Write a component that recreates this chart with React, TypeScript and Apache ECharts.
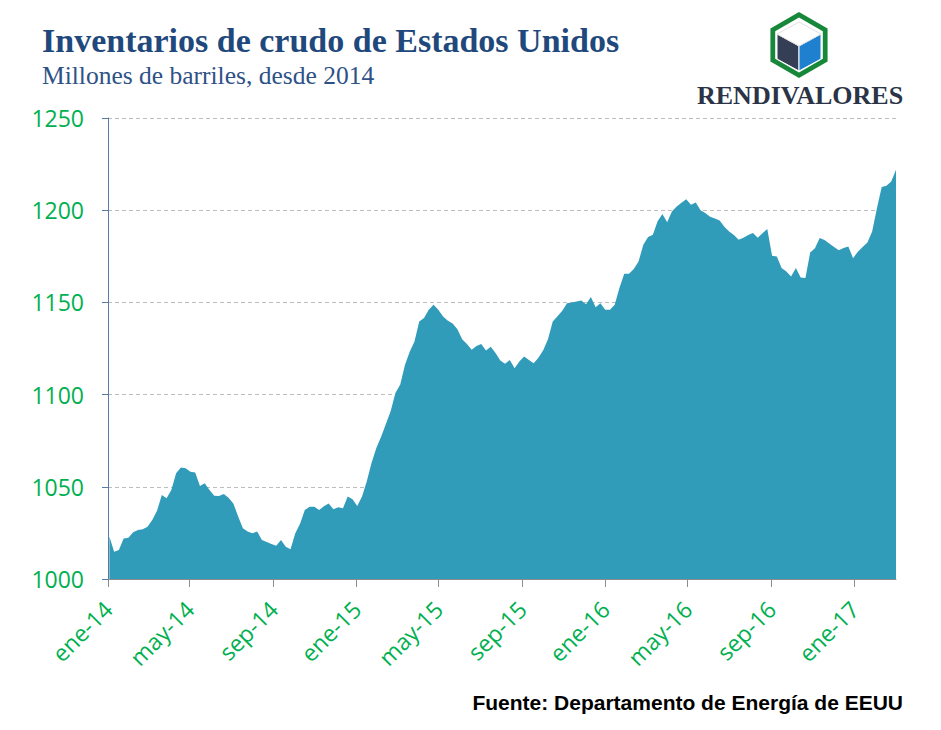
import React, { useEffect, useRef } from "react";
import * as echarts from "echarts";

// Weekly U.S. crude oil inventories (million barrels), weeks ending from 2014-01-03
const firstWeek = "2014-01-03";
const inventory = [
  1023, 1014.8, 1015.7, 1022, 1022.4, 1025.3, 1026.6, 1027, 1028.4, 1032,
  1037, 1045.6, 1043.8, 1048.3, 1057.3, 1060.4, 1060, 1058.2, 1057.7, 1050.5,
  1051.9, 1048.3, 1045.2, 1045, 1046.1, 1044, 1041, 1034, 1027.5, 1025.7,
  1024.8, 1025.7, 1021.2, 1020, 1019, 1018, 1021.2, 1017.5, 1016.1, 1024.8,
  1030, 1037.4, 1039.2, 1039.2, 1037.4, 1039.5, 1041, 1037.8, 1038.9, 1038.4,
  1044.7, 1043.2, 1039.6, 1044.7, 1053, 1063, 1071, 1077.2, 1084, 1091,
  1100.8, 1105.3, 1116.1, 1123.3, 1128.8, 1139.6, 1141.5, 1146, 1148.7, 1146,
  1142.3, 1140, 1138.5, 1135.5, 1130, 1127.5, 1124.3, 1126.4, 1127.5, 1123.9,
  1126, 1122.5, 1118.5, 1116.7, 1118.8, 1114.3, 1117.9, 1120.6, 1118.8, 1117,
  1120, 1124, 1130, 1139.6, 1142.5, 1145.5, 1149.6, 1149.9, 1150.5, 1151,
  1149, 1152.9, 1147.4, 1149.6, 1146, 1146, 1148.7, 1158, 1165.5, 1165.5,
  1168.1, 1172.2, 1181.2, 1185.4, 1186.7, 1194, 1198, 1193.5, 1199.3, 1202,
  1204, 1206, 1203, 1204.2, 1200, 1198.5, 1196.5, 1195.5, 1194.4, 1191,
  1188.5, 1186.5, 1184, 1185, 1186.5, 1187.6, 1185, 1187.5, 1189.8, 1175.3,
  1174.9, 1168.6, 1166.8, 1164, 1168.6, 1163.5, 1163.2, 1177, 1179.4, 1184.9,
  1183.8, 1182, 1180, 1178.3, 1179.5, 1180.3, 1174, 1177.5, 1180, 1182.5,
  1188.5, 1201, 1212.6, 1213.3, 1215.6, 1222,
];

const tickDates = [
  "2014-01-01", "2014-05-01", "2014-09-01", "2015-01-01", "2015-05-01",
  "2015-09-01", "2016-01-01", "2016-05-01", "2016-09-01", "2017-01-01",
];
const tickLabels = [
  "ene-14", "may-14", "sep-14", "ene-15", "may-15",
  "sep-15", "ene-16", "may-16", "sep-16", "ene-17",
];

const yMin = 1000;
const yMax = 1250;
const yInterval = 50;

const title = "Inventarios de crudo de Estados Unidos";
const subtitle = "Millones de barriles, desde 2014";
const brand = "RENDIVALORES";
const source = "Fuente: Departamento de Energía de EEUU";

const DAY = 86400000;
const origin = Date.parse("2014-01-01T00:00:00Z");
const dayOf = (iso: string) => Math.round((Date.parse(iso + "T00:00:00Z") - origin) / DAY);

export default function App() {
  const ref = useRef<HTMLDivElement>(null);

  useEffect(() => {
    document.body.style.margin = "0";
    if (!ref.current) return;
    const chart = echarts.init(ref.current, undefined, { renderer: "svg" });

    const start = dayOf(firstWeek);
    const seriesData = inventory.map((v, i) => [start + 7 * i, v]);
    const tickDays = tickDates.map(dayOf);
    const lastDay = start + 7 * (inventory.length - 1);

    const green = "#00B050";
    const navy = "#1F497D";

    // logo geometry
    const cx = 799, cy = 45;
    const hex = (r: number) =>
      [0, 1, 2, 3, 4, 5].map((k) => {
        const a = (Math.PI / 3) * k - Math.PI / 2;
        return [cx + r * Math.cos(a), cy + r * Math.sin(a)];
      });

    chart.setOption({
      animation: false,
      backgroundColor: "#ffffff",
      grid: { left: 108, right: 45, top: 118, bottom: 151, containLabel: false },
      xAxis: {
        type: "value",
        min: 0,
        max: lastDay,
        splitLine: { show: false },
        axisLine: { show: true, lineStyle: { color: "#8c8c8c", width: 1 } },
        axisTick: {
          show: true,
          customValues: tickDays,
          length: 8,
          lineStyle: { color: "#8c8c8c" },
        },
        axisLabel: {
          customValues: tickDays,
          rotate: 45,
          margin: 26,
          color: green,
          fontSize: 23,
          fontFamily: "Open Sans",
          formatter: (v: number) => {
            const idx = tickDays.indexOf(Math.round(v));
            return idx >= 0 ? tickLabels[idx] : "";
          },
        },
      },
      yAxis: {
        type: "value",
        min: yMin,
        max: yMax,
        interval: yInterval,
        axisLine: { show: true, lineStyle: { color: "#5a7aa8", width: 1 } },
        axisTick: { show: true, length: 6, lineStyle: { color: "#5a7aa8" } },
        axisLabel: {
          margin: 24,
          color: green,
          fontSize: 23,
          fontFamily: "Open Sans",
          formatter: (v: number) => String(v),
        },
        splitLine: {
          show: true,
          lineStyle: { color: "#bdbdbd", type: [4, 3], width: 1 },
        },
      },
      series: [
        {
          type: "line",
          data: seriesData,
          showSymbol: false,
          symbol: "none",
          lineStyle: { width: 0 },
          areaStyle: { color: "#319BBA", opacity: 1, origin: "start" },
          itemStyle: { color: "#319BBA" },
          z: 1,
        },
      ],
      graphic: [
        {
          type: "text",
          left: 42,
          top: 23,
          style: {
            text: title,
            font: 'bold 34px "Liberation Serif"',
            fill: navy,
          },
        },
        {
          type: "text",
          left: 42,
          top: 62,
          style: {
            text: subtitle,
            font: '25.5px "Liberation Serif"',
            fill: "#2E5286",
          },
        },
        {
          type: "polygon",
          shape: { points: hex(33) },
          style: { fill: "#17883A" },
        },
        {
          type: "polygon",
          shape: { points: hex(27.5) },
          style: { fill: "#ffffff" },
        },
        {
          type: "polygon",
          shape: { points: [[777, 34], [799, 46], [799, 71], [777, 59]] },
          style: { fill: "#343E55", stroke: "#ffffff", lineWidth: 1 },
        },
        {
          type: "polygon",
          shape: { points: [[799, 46], [821, 34], [821, 59], [799, 71]] },
          style: { fill: "#1E80CF", stroke: "#ffffff", lineWidth: 1 },
        },
        {
          type: "polygon",
          shape: { points: [[799, 22], [821, 34], [799, 46], [777, 34]] },
          style: { fill: "#ffffff", stroke: "#d8d8d8", lineWidth: 0.8 },
        },
        {
          type: "text",
          left: 697,
          top: 82,
          style: {
            text: brand,
            font: 'bold 26px "Liberation Serif"',
            fill: "#2B3447",
          },
        },
        {
          type: "text",
          right: 38,
          top: 692,
          style: {
            text: source,
            font: 'bold 21px "Liberation Sans"',
            fill: "#000000",
          },
        },
      ],
    });

    return () => chart.dispose();
  }, []);

  return <div ref={ref} style={{ width: 941, height: 730 }} />;
}
